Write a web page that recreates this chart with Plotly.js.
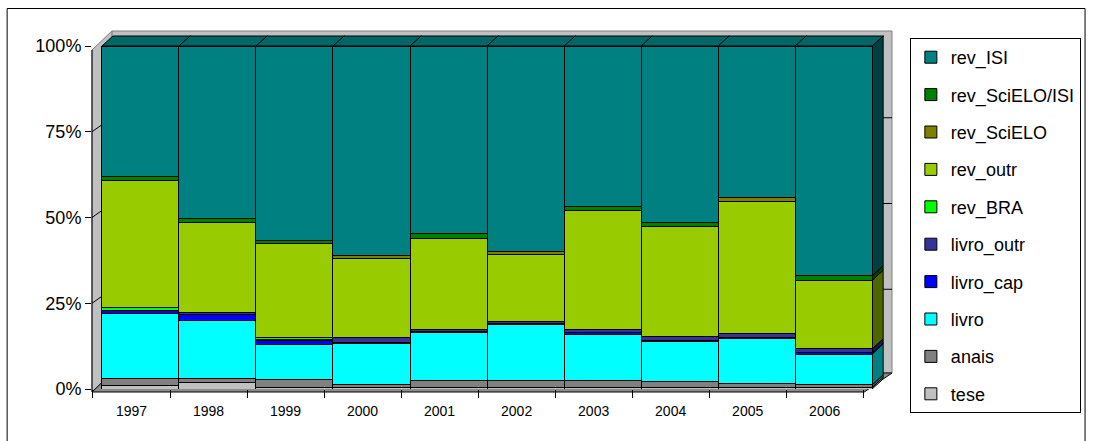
<!DOCTYPE html>
<html>
<head>
<meta charset="utf-8">
<script src="https://cdn.plot.ly/plotly-3.0.1.min.js"></script>
<style>
  html, body { margin: 0; padding: 0; background: #fff; }
  #chart { width: 1093px; height: 441px; }
</style>
</head>
<body>
<div id="chart"></div>
<script>
// Years on the category axis
const years = ['1997', '1998', '1999', '2000', '2001', '2002', '2003', '2004', '2005', '2006'];

// Share of each publication type per year (percent), bottom of the stack first
const tese        = [0.9, 1.9, 0.3, 0.5, 0.5, 0.5, 0.5, 0.5, 0.5, 0.5];
const anais       = [2.2, 1.2, 2.6, 0.9, 2.1, 2.1, 1.9, 1.6, 1.2, 0.7];
const livro       = [18.9, 16.8, 10.2, 11.9, 14.0, 16.1, 13.5, 11.8, 13.1, 9.0];
const livro_cap   = [0.8, 1.8, 1.0, 0.4, 0.3, 0.5, 0.5, 0.3, 0.3, 0.3];
const livro_outr  = [0.0, 0.6, 0.3, 1.3, 0.5, 0.5, 1.0, 1.1, 1.0, 1.2];
const rev_BRA     = [1.0, 0.0, 0.6, 0.0, 0.0, 0.0, 0.0, 0.0, 0.0, 0.0];
const rev_outr    = [36.9, 26.2, 27.4, 23.0, 26.4, 19.4, 34.4, 32.0, 38.5, 20.0];
const rev_SciELO  = [0.0, 0.0, 0.0, 0.9, 0.0, 1.0, 0.0, 0.0, 1.3, 0.0];
const rev_SciELO_ISI = [1.4, 1.3, 1.0, 0.0, 1.5, 0.0, 1.3, 1.3, 0.0, 1.3];
const rev_ISI     = [37.9, 50.2, 56.6, 61.1, 54.7, 59.9, 46.7, 51.4, 44.1, 67.0];

// Axis tick labels
const yTickVals = [0, 25, 50, 75, 100];
const yTickText = ['0%', '25%', '50%', '75%', '100%'];

const series = [
  { name: 'tese',            values: tese,           color: '#C0C0C0', side: '#909090' },
  { name: 'anais',           values: anais,          color: '#808080', side: '#606060' },
  { name: 'livro',           values: livro,          color: '#00FFFF', side: '#008080' },
  { name: 'livro_cap',       values: livro_cap,      color: '#0000FF', side: '#000080' },
  { name: 'livro_outr',      values: livro_outr,     color: '#333399', side: '#1a1a4d' },
  { name: 'rev_BRA',         values: rev_BRA,        color: '#00FF00', side: '#008000' },
  { name: 'rev_outr',        values: rev_outr,       color: '#99CC00', side: '#4d6600' },
  { name: 'rev_SciELO',      values: rev_SciELO,     color: '#808000', side: '#404000' },
  { name: 'rev_SciELO/ISI',  values: rev_SciELO_ISI, color: '#008000', side: '#004000' },
  { name: 'rev_ISI',         values: rev_ISI,        color: '#008080', side: '#004040' }
];

// Page and plot geometry (pixels)
const W_PAGE = 1093, H_PAGE = 441;
const FL = 102, FR = 878, FT = 46, FB = 389;   // front face of the columns
const WALL_X = 20, WALL_Y = 15;                // depth of the back wall
const DEPTH_X = 11, DEPTH_Y = 10;              // depth of each column
const SIDE_W = 10;                             // visible width of the left wall
const PL = FL - SIDE_W, PR = FR + WALL_X, PT = FT - WALL_Y, PB = FB;  // plot area incl. walls
const PW = PR - PL, PH = PB - PT;
const STEP = (FR - FL) / years.length;

const xIdx = years.map((_, i) => i);
const xMin = -0.5 - SIDE_W / STEP;
const xMax = years.length - 0.5 + (PR - FR) / STEP;
const yMax = 100 * PH / (FB - FT);
const tickShift = 9 / STEP;   // floor ticks and labels sit slightly left of the columns

const px = x => (x - PL) / PW;
const py = y => (PB - y) / PH;
const paperPath = pts => 'M' + pts.map(p => px(p[0]).toFixed(5) + ',' + py(p[1]).toFixed(5)).join('L') + 'Z';

const traces = series.map((s, k) => ({
  type: 'bar',
  name: s.name,
  x: xIdx,
  y: s.values,
  customdata: years,
  textposition: 'none',
  legendgroup: s.name,
  legendrank: series.length - k,
  marker: { color: s.color, line: { color: '#000000', width: 1 } },
  hovertemplate: '%{customdata}: %{y:.1f}%<extra>' + s.name + '</extra>'
}));

const shapes = [];

// back wall, left wall and floor of the 3-D box
shapes.push({ type: 'path', xref: 'paper', yref: 'paper', layer: 'below',
  path: paperPath([[FL + 10, PT], [PR, PT], [PR, FB - 16], [FL + 10, FB - 16]]),
  fillcolor: '#C0C0C0', line: { color: '#808080', width: 1 } });
shapes.push({ type: 'path', xref: 'paper', yref: 'paper', layer: 'below',
  path: paperPath([[FL - SIDE_W, FT + 4], [FL + 10, PT], [FL + 10, FB - 16], [FL - SIDE_W, FB + 3]]),
  fillcolor: '#C0C0C0', line: { color: '#808080', width: 1 } });
shapes.push({ type: 'path', xref: 'paper', yref: 'paper', layer: 'below',
  path: paperPath([[FL - SIDE_W, FB + 3], [FR - 8, FB + 3], [PR, FB - 16], [FL + 10, FB - 16]]),
  fillcolor: '#8C8C8C', line: { color: '#000000', width: 1 } });
// value axis line along the front edge of the left wall
shapes.push({ type: 'line', xref: 'paper', yref: 'paper', layer: 'above',
  x0: px(FL - SIDE_W), x1: px(FL - SIDE_W), y0: py(FT + 4), y1: py(FB + 3),
  line: { color: '#000000', width: 1 } });

// gridlines on the back wall and their runs across the left wall
yTickVals.slice(1, 4).forEach(v => {
  shapes.push({ type: 'line', xref: 'paper', yref: 'y', layer: 'below',
    ysizemode: 'pixel', yanchor: v,
    x0: px(FL + 10), x1: px(PR), y0: WALL_Y - 1, y1: WALL_Y - 1,
    line: { color: '#000000', width: 1 } });
  shapes.push({ type: 'line', xref: 'paper', yref: 'y', layer: 'below',
    ysizemode: 'pixel', yanchor: v,
    x0: px(FL - SIDE_W), x1: px(FL + 10), y0: 0, y1: WALL_Y - 1,
    line: { color: '#000000', width: 1 } });
});

// top face of each stacked column (every column reaches 100%)
xIdx.forEach(i => {
  shapes.push({ type: 'path', xref: 'x', yref: 'y', layer: 'below',
    xsizemode: 'pixel', xanchor: i - 0.5, ysizemode: 'pixel', yanchor: 100,
    path: `M0,0L${STEP},0L${STEP + DEPTH_X},${DEPTH_Y}L${DEPTH_X},${DEPTH_Y}Z`,
    fillcolor: '#006666', line: { color: '#000000', width: 1 } });
});

// right-hand side face of the last column, one panel per segment
const last = years.length - 1;
const total = series.reduce((a, s) => a + s.values[last], 0);
const dyData = DEPTH_Y / (FB - FT) * 100;
let acc = 0;
series.forEach(s => {
  const v = s.values[last] / total * 100;
  if (v <= 0) return;
  const y0 = acc, y1 = acc + v;
  acc = y1;
  shapes.push({ type: 'path', xref: 'x', yref: 'y', layer: 'below',
    xsizemode: 'pixel', xanchor: last + 0.5,
    path: `M0,${y0}L${DEPTH_X},${y0 + dyData}L${DEPTH_X},${y1 + dyData}L0,${y1}Z`,
    fillcolor: s.side, line: { color: '#000000', width: 1 } });
});

// outer chart border
shapes.push({ type: 'rect', xref: 'paper', yref: 'paper', layer: 'above',
  x0: px(6.5), x1: px(1092.5), y0: py(8.5), y1: py(446),
  line: { color: '#000000', width: 1 }, fillcolor: 'rgba(0,0,0,0)' });

const layout = {
  width: W_PAGE, height: H_PAGE,
  margin: { l: PL, r: W_PAGE - PR, t: PT, b: H_PAGE - PB, pad: 0 },
  paper_bgcolor: '#ffffff',
  plot_bgcolor: 'rgba(0,0,0,0)',
  font: { family: 'Liberation Sans, Arial, sans-serif', color: '#000000' },
  barmode: 'stack',
  barnorm: 'percent',
  bargap: 0,
  showlegend: true,
  hovermode: 'closest',
  xaxis: {
    type: 'linear', range: [xMin, xMax],
    tickmode: 'array',
    tickvals: xIdx.map(i => i - tickShift),
    ticktext: years,
    ticks: '', ticklen: 8,
    ticklabelstandoff: 12,
    minor: {
      tickmode: 'array',
      tickvals: xIdx.map(i => i - 0.5 - tickShift).concat([years.length - 0.5 - tickShift]),
      ticks: 'outside', ticklen: 8, tickcolor: '#000000', tickwidth: 1, showgrid: false
    },
    tickfont: { size: 14, color: '#000000' },
    showline: false, showgrid: false, zeroline: false, fixedrange: true
  },
  yaxis: {
    range: [0, yMax],
    tickmode: 'array', tickvals: yTickVals, ticktext: yTickText,
    ticks: 'outside', ticklen: 6, tickcolor: '#000000',
    tickfont: { size: 18, color: '#000000' },
    showline: false, showgrid: false, zeroline: false, fixedrange: true
  },
  legend: {
    x: px(916), y: py(38), xanchor: 'left', yanchor: 'top',
    bgcolor: '#ffffff', bordercolor: '#000000', borderwidth: 1,
    font: { size: 18, color: '#000000' },
    traceorder: 'grouped', tracegroupgap: 11,
    itemwidth: 30, maxheight: 420
  },
  shapes: shapes
};

Plotly.newPlot('chart', traces, layout, { displayModeBar: false, staticPlot: true });
</script>
</body>
</html>
